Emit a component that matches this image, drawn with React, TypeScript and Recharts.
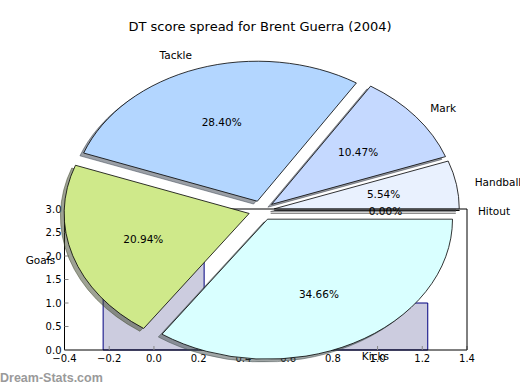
import { Bar, BarChart, Pie, PieChart, XAxis, YAxis } from "recharts";

// pie slices, counter-clockwise from 3 o'clock
const SLICES = ["Hitout", "Handball", "Mark", "Tackle", "Goals", "Kicks"];
const SHARES = [0.0, 5.54, 10.47, 28.4, 20.94, 34.66];
const COLORS = ["#ffffff", "#e9f1fe", "#c5d9ff", "#b3d6ff", "#cfe98a", "#d9ffff"];

// background bars
const BAR_X = [0, 1];
const BAR_Y = [3, 1];
const X_TICKS = [-0.4, -0.2, 0, 0.2, 0.4, 0.6, 0.8, 1.0, 1.2, 1.4];
const Y_TICKS = [0, 0.5, 1.0, 1.5, 2.0, 2.5, 3.0];

const FONT = "'DejaVu Sans', sans-serif";
const STRETCH = 185 / 140; // pie is drawn as an ellipse
const EXPLODE = 0.07;
const RAD = Math.PI / 180;

const pieData = SLICES.map((name, i) => ({ name, value: SHARES[i] }));
const barData = BAR_X.map((x, i) => ({ x, y: BAR_Y[i] }));

const fmtTick = (v: number) => (v < 0 ? "\u2212" + Math.abs(v).toFixed(1) : v.toFixed(1));

function wedgePath(cx: number, cy: number, rx: number, ry: number, a0: number, a1: number) {
  const x0 = cx + rx * Math.cos(a0 * RAD);
  const y0 = cy - ry * Math.sin(a0 * RAD);
  const x1 = cx + rx * Math.cos(a1 * RAD);
  const y1 = cy - ry * Math.sin(a1 * RAD);
  const large = a1 - a0 > 180 ? 1 : 0;
  return `M${cx},${cy} L${x0},${y0} A${rx},${ry} 0 ${large} 0 ${x1},${y1} Z`;
}

function shade(hex: string) {
  const n = parseInt(hex.slice(1), 16);
  const r = Math.round(((n >> 16) & 255) * 0.3);
  const g = Math.round(((n >> 8) & 255) * 0.3);
  const b = Math.round((n & 255) * 0.3);
  return `rgb(${r},${g},${b})`;
}

// draws the exploded elliptical wedge + its shadow
function renderWedge(p: any) {
  const ry = p.outerRadius;
  const rx = ry * STRETCH;
  const mid = p.midAngle * RAD;
  const cx = p.cx + EXPLODE * rx * Math.cos(mid);
  const cy = p.cy - EXPLODE * ry * Math.sin(mid);
  const color = COLORS[p.index];
  const d = wedgePath(cx, cy, rx, ry, p.startAngle, p.endAngle);
  const sd = wedgePath(cx - 0.02 * rx, cy + 0.02 * ry, rx, ry, p.startAngle, p.endAngle);
  return (
    <g>
      <path d={sd} fill={shade(color)} stroke={shade(color)} fillOpacity={0.5} strokeOpacity={0.5} strokeWidth={1} />
      <path d={d} fill={color} stroke="#000" strokeWidth={0.8} />
    </g>
  );
}

// slice name + percentage
function renderText(p: any) {
  const ry = p.outerRadius;
  const rx = ry * STRETCH;
  const mid = p.midAngle * RAD;
  const c = Math.cos(mid);
  const s = Math.sin(mid);
  const lx = p.cx + (EXPLODE + 1.1) * rx * c;
  const ly = p.cy - (EXPLODE + 1.1) * ry * s;
  const px = p.cx + (EXPLODE + 0.6) * rx * c;
  const py = p.cy - (EXPLODE + 0.6) * ry * s;
  return (
    <g>
      <text x={lx} y={ly} textAnchor={c > 0 ? "start" : "end"} dominantBaseline="central" fontSize={10.5} fontFamily={FONT} fill="#000">
        {SLICES[p.index]}
      </text>
      <text x={px} y={py} textAnchor="middle" dominantBaseline="central" fontSize={10.5} fontFamily={FONT} fill="#000">
        {SHARES[p.index].toFixed(2)}%
      </text>
    </g>
  );
}

export default function App() {
  const tickStyle = { fontSize: 10, fontFamily: FONT, fill: "#000" };
  return (
    <div style={{ position: "absolute", left: 0, top: 0, width: 520, height: 390, background: "#fff" }}>
      <div style={{ position: "absolute", left: 0, top: 18, width: 520, textAlign: "center", fontFamily: FONT, fontSize: 13, lineHeight: "17px" }}>
        DT score spread for Brent Guerra (2004)
      </div>
      <div style={{ position: "absolute", left: 0, top: 371, fontFamily: "'Liberation Sans', sans-serif", fontWeight: "bold", fontSize: 12.5, color: "#9a9a9a" }}>
        Dream-Stats.com
      </div>
      <div style={{ position: "absolute", left: 0, top: 0 }}>
        <BarChart width={520} height={390} data={barData} margin={{ top: 199, right: 43, left: 24.5, bottom: 20 }}>
          <XAxis
            dataKey="x"
            type="number"
            domain={[-0.4, 1.4]}
            ticks={X_TICKS}
            tickFormatter={fmtTick}
            tick={tickStyle}
            tickSize={-4}
            tickMargin={9}
            height={20}
            stroke="#000"
            tickLine={{ stroke: "#888" }}
            allowDataOverflow
          />
          <XAxis
            xAxisId="top"
            orientation="top"
            dataKey="x"
            type="number"
            domain={[-0.4, 1.4]}
            ticks={X_TICKS}
            tick={false}
            tickSize={-4}
            height={10}
            stroke="#000"
            tickLine={{ stroke: "#888" }}
            allowDataOverflow
          />
          <YAxis
            type="number"
            domain={[0, 3]}
            ticks={Y_TICKS}
            tickFormatter={fmtTick}
            tick={tickStyle}
            tickSize={-4}
            tickMargin={7}
            width={40}
            stroke="#000"
            tickLine={{ stroke: "#888" }}
          />
          <YAxis
            yAxisId="right"
            orientation="right"
            type="number"
            domain={[0, 3]}
            ticks={Y_TICKS}
            tick={false}
            tickSize={-4}
            width={10}
            stroke="#000"
            tickLine={{ stroke: "#888" }}
          />
          <Bar dataKey="y" barSize={101} fill="#ccccdf" stroke="#000080" strokeWidth={1} isAnimationActive={false} />
        </BarChart>
      </div>
      <div style={{ position: "absolute", left: 0, top: 0 }}>
        <PieChart width={520} height={390} margin={{ top: 0, right: 0, bottom: 0, left: 0 }}>
          <Pie
            data={pieData}
            dataKey="value"
            cx={261.5}
            cy={210.5}
            outerRadius={140}
            startAngle={360}
            endAngle={720}
            fill="none"
            stroke="none"
            label={renderWedge}
            labelLine={false}
            isAnimationActive={false}
          />
          <Pie
            data={pieData}
            dataKey="value"
            cx={261.5}
            cy={210.5}
            outerRadius={140}
            startAngle={360}
            endAngle={720}
            fill="none"
            stroke="none"
            label={renderText}
            labelLine={false}
            isAnimationActive={false}
          />
        </PieChart>
      </div>
    </div>
  );
}
